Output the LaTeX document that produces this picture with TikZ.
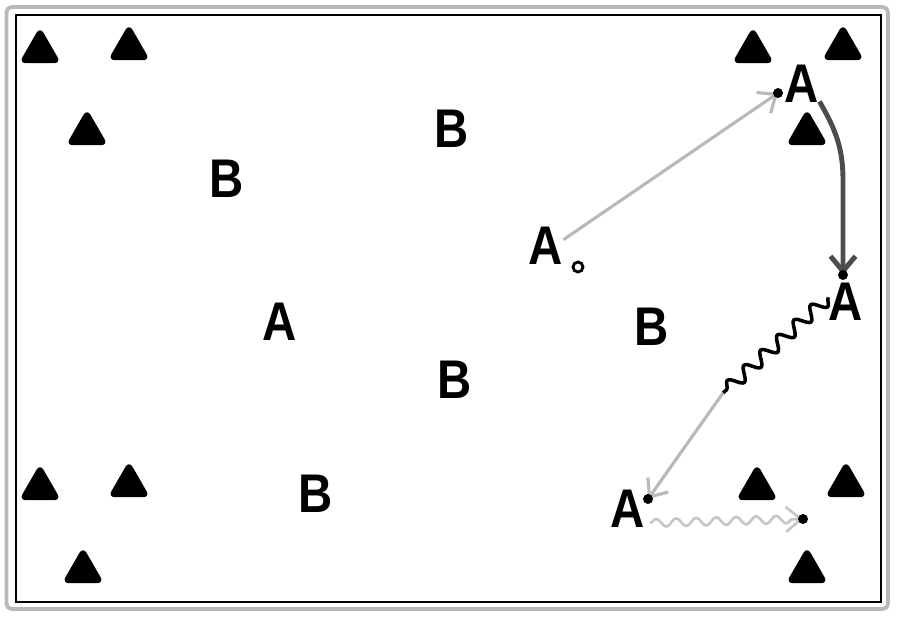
\documentclass[tikz,border=0pt]{standalone}
\usepackage{fontspec}
\newfontfamily\playerfont[FakeStretch=0.87]{Liberation Sans}
\usetikzlibrary{arrows.meta, shapes.geometric, decorations.pathmorphing}
\tikzset{%
	player/.style={inner sep=0mm, font=\playerfont\bfseries\fontsize{31}{31}\selectfont},
	cone/.style={regular polygon, regular polygon sides=3, draw, fill=black,%
		line width=1pt, rounded corners=3pt, minimum size=9mm, inner sep=0mm},
	dot/.style={circle, fill=black, inner sep=0mm, minimum size=2mm},
	ring/.style={circle, draw, line width=1.6pt, fill=white, inner sep=0mm, minimum size=2mm},
	barb/.style={-{Straight Barb[length=3mm, width=5mm]}},
	pass/.style={draw=gray!55, line width=1.8pt, barb},
	run/.style={draw=black!70, line width=2.8pt, barb},
	dribble/.style={draw=black, line width=2pt, decorate,%
		decoration={snake, amplitude=1.3mm, segment length=4.5mm}},
	carry/.style={draw=gray!45, line width=1.5pt, barb, decorate,%
		decoration={snake, amplitude=.8mm, segment length=4mm, post length=2mm}}
}
\begin{document}
\begin{tikzpicture}[x=0.02cm, y=-0.02cm]
	\useasboundingbox (0,0) rectangle (900,620);
	% pitch
	\draw[gray!55, line width=2.2pt, rounded corners=3pt] (6.5,7) rectangle (888,609);
	\draw[line width=0.8pt] (16,15) rectangle (881,602);

	% cones
	\foreach \x/\y [count=\i] in {40/51, 129/48, 87/133, 753/51, 843/48, 807/133,%
		40/488, 129/485, 83/571, 757/488, 846/485, 807/571}
		\node[cone] (c\i) at (\x,\y) {};

	% players
	\node[player] (a1) at (546,246) {A};
	\node[player] (a2) at (802,84)  {A};
	\node[player] (a3) at (846,302) {A};
	\node[player] (a4) at (628,509) {A};
	\node[player] (a5) at (280,322) {A};
	\node[player] (b1) at (452,129) {B};
	\node[player] (b2) at (227,179) {B};
	\node[player] (b3) at (652,327) {B};
	\node[player] (b4) at (455,380) {B};
	\node[player] (b5) at (316,494) {B};
	\node[ring]   (ball) at (578,267) {};

	\coordinate (t1) at (778,93);
	\coordinate (k2) at (843,180);
	\coordinate (t2) at (843,275);
	\coordinate (m3) at (723,393);
	\coordinate (t3) at (648,499);
	\coordinate (s4) at (650,523);
	\coordinate (t4) at (803,519);

	\draw[pass] (a1.20) -- (t1);
	\draw[run] (a2.-45) to[out=-60, in=90] (k2) -- (t2);
	\draw[dribble] (a3.165) -- (m3);
	\draw[pass] (m3) -- (t3);
	\draw[carry] (s4) -- (t4);

	\foreach \t in {t1, t2, t3, t4}
		\node[dot] at (\t) {};
\end{tikzpicture}
\end{document}
